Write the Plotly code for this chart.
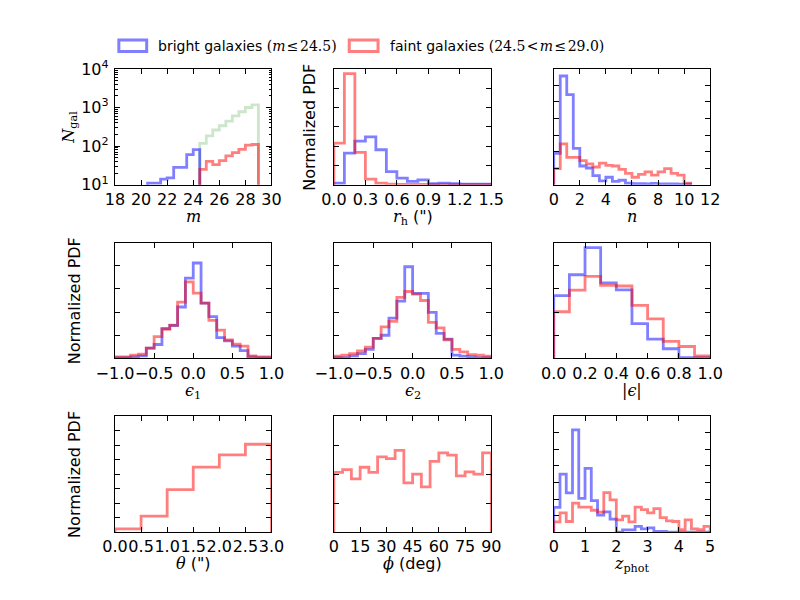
import numpy as np
import plotly.graph_objects as go

# ---------------- data ----------------
# panel 1: magnitude counts (bins of 0.5 from 18 to 29)
mag_edges = np.arange(18.0, 29.01, 0.5)
mag_bright = [0, 0, 0, 0, 0, 11, 11, 14, 15, 28, 28, 60, 81, 0, 0, 0, 0, 0, 0, 0, 0, 0]
mag_faint = [0] * 13 + [25, 40, 33, 42, 56, 68, 82, 106, 110]
mag_total = [0] * 13 + [117, 185, 261, 337, 446, 610, 776, 1000, 1170]

# panel 2: half-light radius
rh_edges = np.arange(0.0, 1.501, 0.1)
rh_bright = [0.08, 1.64, 2.26, 2.48, 1.81, 0.68, 0.34, 0.17, 0.25, 0.06, 0.08, 0.06, 0.03, 0.03, 0.03]
rh_faint = [2.15, 5.76, 1.67, 0.29, 0.08, 0.03, 0.02, 0.02, 0.01, 0.01, 0.01, 0.01, 0.01, 0.01, 0.01]

# panel 3: Sersic index
n_edges = np.arange(0.0, 10.501, 0.5)
n_bright = [0.19, 0.657, 0.545, 0.22, 0.113, 0.101, 0.055, 0.023, 0.045, 0.02, 0.027,
            0.01, 0.006, 0.006, 0.005, 0.008, 0.005, 0.005, 0.005, 0.004, 0.003]
n_faint = [0.097, 0.247, 0.165, 0.165, 0.146, 0.126, 0.107, 0.13, 0.117, 0.113, 0.093,
           0.068, 0.045, 0.062, 0.078, 0.058, 0.078, 0.097, 0.068, 0.058, 0.01]

# panel 4: e1
e1_edges = np.arange(-1.0, 1.001, 0.1)
e1_bright = [0.015, 0.015, 0.035, 0.055, 0.22, 0.30, 0.645, 0.71, 1.11, 1.735,
             2.06, 1.195, 0.9, 0.45, 0.38, 0.265, 0.17, 0.035, 0.015, 0.015]
e1_faint = [0.035, 0.035, 0.07, 0.09, 0.22, 0.47, 0.625, 0.72, 1.215, 1.65,
            1.41, 1.195, 0.82, 0.61, 0.40, 0.31, 0.265, 0.055, 0.035, 0.03]

# panel 5: e2
e2_edges = np.arange(-1.0, 1.001, 0.1)
e2_bright = [0.014, 0.014, 0.056, 0.104, 0.194, 0.431, 0.5, 0.868, 1.236, 1.979,
             1.403, 1.403, 0.993, 0.542, 0.417, 0.069, 0.049, 0.035, 0.014, 0.014]
e2_faint = [0.049, 0.069, 0.104, 0.160, 0.243, 0.431, 0.681, 0.799, 1.319, 1.444,
            1.389, 1.25, 0.778, 0.66, 0.403, 0.194, 0.139, 0.083, 0.069, 0.049]

# panel 6: |e|
ea_edges = np.arange(0.0, 1.001, 0.1)
ea_bright = [1.354, 1.806, 2.39, 1.632, 1.479, 0.75, 0.417, 0.208, 0.014, 0.014]
ea_faint = [1.007, 1.472, 1.771, 1.576, 1.563, 1.146, 0.854, 0.368, 0.257, 0.056]

# panel 7: theta (arcsec)
th_edges = np.arange(0.0, 3.001, 0.5)
th_faint = [0.022, 0.111, 0.293, 0.449, 0.533, 0.607]

# panel 8: phi (deg)
phi_edges = np.arange(0, 91, 5)
phi_faint = [0.0103, 0.0108, 0.0092, 0.0112, 0.0103, 0.013, 0.0127, 0.0141, 0.0085,
             0.01, 0.0078, 0.0122, 0.0137, 0.0133, 0.0097, 0.0104, 0.01, 0.0137]

# panel 9: photometric redshift
z_edges = np.arange(0.0, 5.001, 0.2)
z_bright = [0.3, 0.7, 0.474, 1.237, 0.408, 0.77, 0.381, 0.206, 0.245, 0.156, 0.0, 0.027,
            0.027, 0.07, 0.039, 0.051, 0.008, 0.008, 0, 0, 0, 0, 0, 0, 0]
z_faint = [0.124, 0.233, 0.128, 0.35, 0.303, 0.303, 0.264, 0.241, 0.478, 0.389, 0.148, 0.194,
           0.124, 0.303, 0.272, 0.233, 0.284, 0.175, 0.136, 0.128, 0.031, 0.148, 0.039, 0.031, 0.07]

legend_labels = ["bright galaxies ", "faint galaxies "]
legend_math = ["(<i>m</i>\u200a≤\u200a24.5)", "(24.5\u200a&lt;\u200a<i>m</i>\u200a≤\u200a29.0)"]

BLUE = "rgba(0,0,255,0.5)"
RED = "rgba(255,0,0,0.5)"
GREEN = "rgba(0,128,0,0.2)"
SANS = "DejaVu Sans"
W, H = 800, 600

# axes pixel boxes
cols_px = [(100, 263), (328, 492), (557, 720)]
rows_px = [(60, 180), (240, 360), (420, 540)]


def step_xy(edges, vals, base=0.0):
    xs = [edges[0]] + list(edges) + [edges[-1]]
    ys = [base] + list(vals) + [vals[-1], base]
    return xs, ys


fig = go.Figure()


def add_hist(idx, edges, vals, color, base=0.0, log=False):
    v = [x if (x > 0 or not log) else base for x in vals]
    xs, ys = step_xy(edges, v, base)
    sfx = "" if idx == 1 else str(idx)
    fig.add_trace(go.Scatter(x=xs, y=ys, mode="lines", line=dict(color=color, width=2.8, shape="hv"),
                             xaxis="x" + sfx, yaxis="y" + sfx, showlegend=False, hoverinfo="skip"))


add_hist(1, mag_edges, mag_total, GREEN, base=1, log=True)
add_hist(1, mag_edges, mag_bright, BLUE, base=1, log=True)
add_hist(1, mag_edges, mag_faint, RED, base=1, log=True)
add_hist(2, rh_edges, rh_bright, BLUE)
add_hist(2, rh_edges, rh_faint, RED)
add_hist(3, n_edges, n_bright, BLUE)
add_hist(3, n_edges, n_faint, RED)
add_hist(4, e1_edges, e1_bright, BLUE)
add_hist(4, e1_edges, e1_faint, RED)
add_hist(5, e2_edges, e2_bright, BLUE)
add_hist(5, e2_edges, e2_faint, RED)
add_hist(6, ea_edges, ea_bright, BLUE)
add_hist(6, ea_edges, ea_faint, RED)
add_hist(7, th_edges, th_faint, RED)
add_hist(8, phi_edges, phi_faint, RED)
add_hist(9, z_edges, z_bright, BLUE)
add_hist(9, z_edges, z_faint, RED)

xcfg = [
    dict(range=[18, 30], tickvals=list(range(18, 31, 2))),
    dict(range=[0, 1.5], tickvals=[0, 0.3, 0.6, 0.9, 1.2, 1.5], tickformat=".1f"),
    dict(range=[0, 12], tickvals=list(range(0, 13, 2))),
    dict(range=[-1, 1], tickvals=[-1, -0.5, 0, 0.5, 1], tickformat=".1f"),
    dict(range=[-1, 1], tickvals=[-1, -0.5, 0, 0.5, 1], tickformat=".1f"),
    dict(range=[0, 1], tickvals=[0, 0.2, 0.4, 0.6, 0.8, 1.0], tickformat=".1f"),
    dict(range=[0, 3], tickvals=[0, 0.5, 1, 1.5, 2, 2.5, 3], tickformat=".1f"),
    dict(range=[0, 90], tickvals=list(range(0, 91, 15))),
    dict(range=[0, 5], tickvals=list(range(0, 6))),
]
ycfg = [
    None,
    dict(range=[0, 6], dtick=1),
    dict(range=[0, 0.7], dtick=0.1),
    dict(range=[0, 2.5], dtick=0.5),
    dict(range=[0, 2.5], dtick=0.5),
    dict(range=[0, 2.5], dtick=0.5),
    dict(range=[0, 0.8], dtick=0.1),
    dict(range=[0, 0.02], dtick=0.005),
    dict(range=[0, 1.4], dtick=0.2),
]

common = dict(showline=True, linecolor="black", linewidth=1.3, mirror="ticks", ticks="inside",
              ticklen=5, tickwidth=1, tickcolor="black", showgrid=False, zeroline=False,
              tickfont=dict(family=SANS, size=16, color="black"), fixedrange=True)

layout = {}
for i in range(9):
    r, c = divmod(i, 3)
    x0, x1 = cols_px[c]
    y0, y1 = rows_px[r]
    sfx = "" if i == 0 else str(i + 1)
    xa = dict(common)
    xa.update(domain=[x0 / W, x1 / W], anchor="y" + sfx, tickmode="array", tickangle=0,
              ticklabelstandoff=0, **xcfg[i])
    ya = dict(common)
    ya.update(domain=[1 - y1 / H, 1 - y0 / H], anchor="x" + sfx)
    if i == 0:
        ya.update(type="log", range=[1, 4], tickmode="array", tickvals=[10, 100, 1000, 10000],
                  ticktext=["10<sup>1</sup>", "10<sup>2</sup>", "10<sup>3</sup>", "10<sup>4</sup>"],
                  ticklabelstandoff=2,
                  minor=dict(ticks="inside", ticklen=2.5, tickcolor="black", tickwidth=1,
                             tickvals=[k * 10 ** e for e in range(1, 4) for k in range(2, 10)]))
    else:
        ya.update(showticklabels=False, tickmode="linear", tick0=0, **ycfg[i])
    layout["xaxis" + sfx] = xa
    layout["yaxis" + sfx] = ya

annotations = []


def ann(text, xpx, ypx, angle=0, xanchor="center", yanchor="middle", size=16):
    annotations.append(dict(text=text, x=xpx / W, y=1 - ypx / H, xref="paper", yref="paper",
                            showarrow=False, textangle=angle, xanchor=xanchor, yanchor=yanchor,
                            borderpad=0, font=dict(family=SANS, size=size, color="black")))


def serif(s):
    return "<span style=\"font-family:'DejaVu Serif'\">" + s + "</span>"


xlabels = [
    serif("<i>m</i>"), serif("<i>r</i><sub>h</sub>") + " (\")", serif("<i>n</i>"),
    serif("<i>ϵ</i><sub>1</sub>"), serif("<i>ϵ</i><sub>2</sub>"), serif("|<i>ϵ</i>|"),
    serif("<i>θ</i>") + " (\")", serif("<i>ϕ</i>") + " (deg)", serif("<i>z</i><sub>phot</sub>"),
]
for i, t in enumerate(xlabels):
    r, c = divmod(i, 3)
    ann(t, (cols_px[c][0] + cols_px[c][1]) / 2, rows_px[r][1] + 22, yanchor="top")

ann(serif("<i>N</i><sub>gal</sub>"), 53, 120, angle=-90)
ann("Normalized PDF", 303, 120, angle=-90)
ann("Normalized PDF", 58, 300, angle=-90)
ann("Normalized PDF", 58, 480, angle=-90)

# legend (outlined patches + labels)
shapes = []
leg_x = [(104, 133, 144), (344, 374, 385)]
for (a, b, tx), col, lab, mth in zip(leg_x, [BLUE, RED], legend_labels, legend_math):
    shapes.append(dict(type="rect", xref="paper", yref="paper", x0=a / W, x1=b / W,
                       y0=1 - 42 / H, y1=1 - 30 / H, line=dict(color=col, width=3),
                       fillcolor="rgba(0,0,0,0)"))
    ann(lab + serif(mth), tx, 36, xanchor="left", size=14)

fig.update_layout(width=W, height=H, margin=dict(l=0, r=0, t=0, b=0), autosize=False,
                  paper_bgcolor="white", plot_bgcolor="white", showlegend=False,
                  annotations=annotations, shapes=shapes, **layout)

fig.write_html("out.html")
